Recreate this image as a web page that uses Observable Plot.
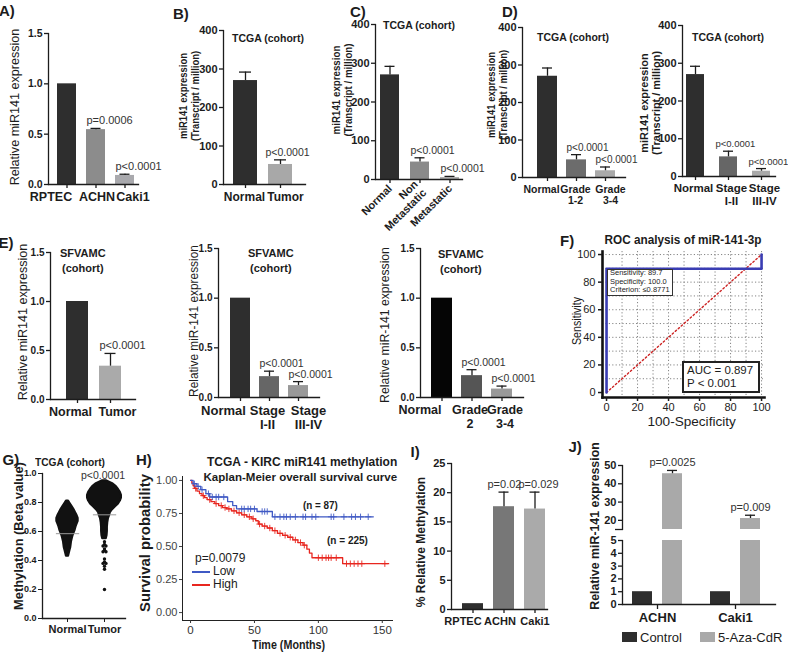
<!DOCTYPE html>
<html><head><meta charset="utf-8">
<script src="https://cdn.jsdelivr.net/npm/d3@7"></script>
<script src="https://cdn.jsdelivr.net/npm/@observablehq/plot@0.6"></script>
<style>
body{margin:0;background:#fff;}
#root{position:relative;width:788px;height:652px;overflow:hidden;background:#fff;font-family:'Liberation Sans',Arial,sans-serif;}
#root svg.boldticks g[aria-label*="tick label"] text{font-weight:bold;fill:#1c1c1c;}
</style></head><body><div id="root"></div>
<script>
// ================= DATA =================
const A_cats = ["RPTEC","ACHN","Caki1"];
const A_vals = [1.0, 0.545, 0.09];
const A_errs = [0, 0.012, 0.012];
const A_pvals = ["", "p=0.0006", "p<0.0001"];

const B_cats = ["Normal","Tumor"];
const B_vals = [270, 52];
const B_errs = [22, 12];
const B_pvals = ["", "p<0.0001"];

const C_cats = ["Normal","Non\nMetastatic","Metastatic"];
const C_vals = [270, 45, 5];
const C_errs = [22, 11, 3];
const C_pvals = ["", "p<0.0001", "p<0.0001"];

const D1_cats = ["Normal","Grade\n1-2","Grade\n3-4"];
const D1_vals = [270, 47, 18];
const D1_errs = [22, 14, 10];
const D1_pvals = ["", "p<0.0001", "p<0.0001"];

const D2_cats = ["Normal","Stage\nI-II","Stage\nIII-IV"];
const D2_vals = [270, 52, 14];
const D2_errs = [22, 15, 7];
const D2_pvals = ["", "p<0.0001", "p<0.0001"];

const E1_cats = ["Normal","Tumor"];
const E1_vals = [1.0, 0.34];
const E1_errs = [0, 0.13];
const E1_pvals = ["", "p<0.0001"];

const E2_cats = ["Normal","Stage\nI-II","Stage\nIII-IV"];
const E2_vals = [1.0, 0.21, 0.12];
const E2_errs = [0, 0.055, 0.04];
const E2_pvals = ["", "p<0.0001", "p<0.0001"];

const E3_cats = ["Normal","Grade\n2","Grade\n3-4"];
const E3_vals = [1.0, 0.22, 0.085];
const E3_errs = [0, 0.06, 0.03];
const E3_pvals = ["", "p<0.0001", "p<0.0001"];

const I_cats = ["RPTEC","ACHN","Caki1"];
const I_vals = [1.0, 17.6, 17.2];
const I_errs = [0, 2.5, 2.9];
const I_pvals = ["", "p=0.02", "p=0.029"];

const J_groups = ["ACHN","Caki1"];
const J_treat = ["Control","5-Aza-CdR"];
const J_ctrl = [1.0, 1.0];
const J_aza = [45.5, 21.0];
const J_azaErr = [1.8, 1.8];
const J_pvals = ["p=0.0025", "p=0.009"];

// ROC (F)
const F_fpr = [0, 0, 100, 100];
const F_tpr = [0, 89.7, 89.7, 100];
const F_diag = [0, 100];
const F_ticks = [0, 20, 40, 60, 80, 100];
const F_grid = [10, 20, 30, 40, 50, 60, 70, 80, 90, 100];

// Methylation beeswarm outline (G): level -> half spread (fraction of group spacing)
const G_cats = ["Normal","Tumor"];
const G_normLevels = [0.81,0.79,0.77,0.75,0.73,0.71,0.69,0.67,0.65,0.63,0.61,0.59,0.57,0.55,0.53,0.51,0.49,0.47,0.45,0.43];
const G_normSpread = [0.03,0.08,0.13,0.18,0.22,0.26,0.29,0.29,0.26,0.23,0.21,0.18,0.15,0.13,0.11,0.10,0.09,0.07,0.05,0.03];
const G_tumLevels = [0.95,0.93,0.91,0.89,0.87,0.85,0.83,0.81,0.79,0.77,0.75,0.73,0.71,0.69,0.66,0.63,0.60,0.57,0.55];
const G_tumSpread = [0.05,0.22,0.32,0.38,0.43,0.46,0.46,0.43,0.38,0.30,0.22,0.16,0.14,0.11,0.09,0.08,0.08,0.07,0.05];
const G_tailVals = [0.53,0.51,0.50,0.50,0.48,0.47,0.46,0.46,0.41,0.39,0.38,0.38,0.36,0.34,0.20];
const G_tailOff  = [0,0,-0.04,0.04,0,0,-0.04,0.04,0,0,-0.04,0.04,0,0,0];
const G_lineVals = [0.585, 0.715];

// Kaplan-Meier (H)
const H_lowT = [0, 2, 5, 8, 12, 15, 29, 33, 36, 52, 64, 143];
const H_lowS = [1, 0.975, 0.955, 0.93, 0.9, 0.875, 0.84, 0.81, 0.785, 0.765, 0.725, 0.725];
const H_lowCens = [3,6,9,14,17,20,22,26,40,42,45,47,50,56,58,60,66,70,73,75,78,82,88,90,95,98,110,112,120,126,129,133,139];
const H_highT = [0,1,2,3,5,7,9,11,13,16,19,22,25,28,32,36,40,44,48,51,53,56,60,64,68,72,76,80,84,88,91,93,95,119,155];
const H_highS = [1,0.98,0.96,0.94,0.92,0.9,0.885,0.87,0.855,0.84,0.825,0.81,0.795,0.785,0.77,0.755,0.74,0.725,0.71,0.695,0.67,0.655,0.64,0.62,0.6,0.585,0.57,0.55,0.53,0.51,0.48,0.45,0.415,0.37,0.37];
const H_highCens = [4,10,15,20,24,27,30,34,38,42,46,49,54,58,62,66,70,74,78,82,86,89,100,103,106,108,110,114,122,125,128,131,134,152];

// ================= HELPERS =================
const W = 788, H = 652;
const FONT = "'Liberation Sans', Arial, Helvetica, sans-serif";
const INK = "#1c1c1c";
const root = document.getElementById("root");

function add(svg, weight){
  Object.assign(svg.style, {position: "absolute", left: "0px", top: "0px", background: "transparent",
    overflow: "visible", maxWidth: "none", fontFamily: FONT, color: INK});
  svg.setAttribute("font-family", FONT);
  if (weight === "bold") {
    svg.classList.add("boldticks");
    svg.querySelectorAll("text").forEach(t => {
      let el = t, normal = false;
      while (el && el !== svg) { if (el.getAttribute && el.getAttribute("font-weight") === "normal") { normal = true; break; } el = el.parentNode; }
      if (!normal) { t.setAttribute("font-weight", "bold"); t.style.fontWeight = "bold"; t.style.fill = INK; }
    });
  }
  root.appendChild(svg);
  return svg;
}
function base(l, r, t, b){
  return {width: W, height: H, marginLeft: l, marginRight: W - r, marginTop: t, marginBottom: H - b};
}
function T(s, x, y, o = {}){
  const d = document.createElement("div");
  d.textContent = s;
  const st = d.style, size = o.size || 12;
  st.position = "absolute"; st.whiteSpace = "pre"; st.fontFamily = o.family || FONT;
  st.fontSize = size + "px"; st.fontWeight = o.weight || "bold"; st.color = o.color || INK;
  st.lineHeight = (o.lh || Math.round(size * 1.15)) + "px"; st.textAlign = o.align || "center";
  st.left = "0px"; st.top = "0px";
  root.appendChild(d);
  const w = d.offsetWidth, h = d.offsetHeight;
  const sx = o.w ? o.w / w : 1;
  let cx = x;
  if (o.anchor === "start") cx = x + w * sx / 2;
  st.left = (cx - w / 2) + "px"; st.top = (y - h / 2) + "px";
  st.transformOrigin = "50% 50%";
  st.transform = `rotate(${o.rot || 0}deg) scaleX(${sx})`;
  return d;
}
function box(x, y, w, h, border){
  const d = document.createElement("div");
  Object.assign(d.style, {position:"absolute", left:x+"px", top:y+"px", width:w+"px", height:h+"px",
    border: border, background:"#fff", boxSizing:"border-box"});
  root.appendChild(d);
}
function hline(x1, x2, y, color, w){
  const d = document.createElement("div");
  Object.assign(d.style, {position:"absolute", left:x1+"px", top:(y - w/2)+"px", width:(x2-x1)+"px", height:w+"px", background:color});
  root.appendChild(d);
}
function swatch(x, y, w, h, color){
  const d = document.createElement("div");
  Object.assign(d.style, {position:"absolute", left:x+"px", top:y+"px", width:w+"px", height:h+"px", background:color});
  root.appendChild(d);
}

function barPanel(cats, vals, errs, pvals, g, s){
  const data = cats.map((c, i) => ({c, v: vals[i], e: errs[i], p: pvals[i], f: s.fills[i]}));
  const withErr = data.filter(d => d.e > 0);
  const n = cats.length, pi = 1 - g.bw / g.step;
  const cap = (g.bw - (s.capW || 9)) / 2;
  const catMarks = s.rot
    ? [Plot.axisX({tickSize: 4, tickPadding: 3, fontSize: s.catFont, label: null, strokeWidth: 1.3, tickRotate: s.rot, lineHeight: 1.1})]
    : [Plot.axisX({tickSize: 4, tickFormat: () => "", label: null, strokeWidth: 1.3}),
       ...data.map((d, i) => Plot.text([d], {x: "c", frameAnchor: "bottom", text: "c", dy: 7, dx: (s.ldx || [])[i] || 0,
          lineAnchor: "top", fontSize: s.catFont, fontWeight: "bold", fontFamily: FONT, lineHeight: 1.1, fill: INK}))];
  add(Plot.plot({
    ...base(g.X0, g.X1, g.yTop, g.yBot),
    x: {domain: cats, range: [g.c0 - g.step / 2, g.c0 + (n - 0.5) * g.step], paddingInner: pi, paddingOuter: pi / 2, axis: null},
    y: {domain: [0, g.yMax], axis: null},
    color: {type: "identity"},
    marks: [
      Plot.barY(data, {x: "c", y: "v", fill: "f"}),
      Plot.ruleX(withErr, {x: "c", y1: "v", y2: d => d.v + d.e, stroke: INK, strokeWidth: 1.3}),
      Plot.tickY(withErr, {x: "c", y: d => d.v + d.e, stroke: INK, strokeWidth: 1.3, insetLeft: cap, insetRight: cap}),
      Plot.text(data.filter(d => d.p), {x: "c", y: d => d.v + d.e, text: "p", textAnchor: "start",
        dx: -g.bw / 2 + (s.pdx || 0), dy: -4, lineAnchor: "bottom", fontSize: s.pSize || 10.5, fontWeight: "normal", fontFamily: FONT, fill: "#333"}),
      Plot.frame({anchor: "left", stroke: INK, strokeWidth: 1.3}),
      Plot.frame({anchor: "bottom", stroke: INK, strokeWidth: 1.3}),
      Plot.axisY({ticks: s.ticks, tickFormat: s.fmt, tickSize: 4, tickPadding: 2, fontSize: s.tickFont, label: null, strokeWidth: 1.3}),
      ...catMarks
    ]
  }), "bold");
}

// ================= PANELS =================
const dark = "#2e2e2e";
// A
barPanel(A_cats, A_vals, A_errs, A_pvals, {X0:48, X1:138, yTop:33, yBot:184, yMax:1.5, c0:66, step:29, bw:19},
  {fills:[dark,"#8c8c8c","#a9a9ad"], ticks:[0,0.5,1,1.5], fmt:".1f", tickFont:10.5, catFont:12.5, capW:10, ldx:[-16,1,8], pSize:11});
T("A)", 7, 10, {size:15});
T("Relative miR141 expression", 15, 107, {size:12.5, weight:"normal", rot:-90, w:157});

// B
barPanel(B_cats, B_vals, B_errs, B_pvals, {X0:223, X1:305, yTop:30, yBot:184, yMax:400, c0:245, step:35, bw:24},
  {fills:[dark,"#a8a8a8"], ticks:[0,100,200,300,400], fmt:"d", tickFont:11, catFont:12, capW:12, pdx:-3, ldx:[-1,5]});
T("B)", 181, 13, {size:15});
T("TCGA (cohort)", 268, 38, {size:10.5, w:72});
T("miR141 expression\n(Transcript / million)", 188, 96, {size:11, rot:-90, w:90, lh:12});

// C
barPanel(C_cats, C_vals, C_errs, C_pvals, {X0:375, X1:462, yTop:24, yBot:179, yMax:400, c0:389, step:30, bw:19},
  {fills:[dark,"#8a8a8a","#acacac"], ticks:[0,100,200,300,400], fmt:"d", tickFont:11, catFont:11, rot:-45, capW:10});
T("C)", 358, 11, {size:15});
T("TCGA (cohort)", 419, 25, {size:10.5, w:72});
T("miR141 expression\n(Transcript / million)", 341, 90, {size:11, rot:-90, w:93, lh:12});

// D left
barPanel(D1_cats, D1_vals, D1_errs, D1_pvals, {X0:522, X1:625, yTop:27, yBot:177, yMax:400, c0:547, step:29, bw:20},
  {fills:[dark,"#6c6c6c","#a9a9a9"], ticks:[0,100,200,300,400], fmt:"d", tickFont:11, catFont:10.5, capW:10, ldx:[-6,-1,5], pSize:10});
T("D)", 510, 11, {size:15});
T("TCGA (cohort)", 573, 37, {size:10.5, w:72});
T("miR141 expression\n(Transcript / million)", 496, 95, {size:11, rot:-90, w:90, lh:12});

// D right
barPanel(D2_cats, D2_vals, D2_errs, D2_pvals, {X0:682, X1:775, yTop:25, yBot:176, yMax:400, c0:695, step:33, bw:18},
  {fills:[dark,"#666666","#a9a9a9"], ticks:[0,100,200,300,400], fmt:"d", tickFont:11, catFont:11.5, capW:10, ldx:[-2,3,3], pSize:9.5, pdx:-4});
T("TCGA (cohort)", 728, 37, {size:10.5, w:72});
T("miR141 expression\n(Transcript / million)", 649, 103, {size:11, rot:-90, w:104, lh:12});

// E1
barPanel(E1_cats, E1_vals, E1_errs, E1_pvals, {X0:50, X1:135, yTop:252, yBot:399, yMax:1.5, c0:77, step:33, bw:22},
  {fills:[dark,"#aaaaaa"], ticks:[0,0.5,1,1.5], fmt:".1f", tickFont:10, catFont:12.5, capW:11, ldx:[-7,7], pSize:11});
T("E)", 6, 242, {size:15});
T("SFVAMC\n(cohort)", 83, 261, {size:11, lh:15});
T("Relative miR141 expression", 23, 322, {size:12.5, weight:"normal", rot:-90, w:157});

// E2
barPanel(E2_cats, E2_vals, E2_errs, E2_pvals, {X0:218, X1:319, yTop:248, yBot:397, yMax:1.5, c0:240, step:29, bw:20},
  {fills:[dark,"#666666","#999999"], ticks:[0,0.5,1,1.5], fmt:".1f", tickFont:10, catFont:13, capW:10, ldx:[-17,-2,10]});
T("SFVAMC\n(cohort)", 271, 261, {size:11, lh:15});
T("Relative miR-141 expression", 194, 321, {size:12.5, weight:"normal", rot:-90, w:152});

// E3
barPanel(E3_cats, E3_vals, E3_errs, E3_pvals, {X0:420, X1:523, yTop:248, yBot:397, yMax:1.5, c0:441, step:30.5, bw:21},
  {fills:["#050505","#555555","#999999"], ticks:[0,0.5,1,1.5], fmt:".1f", tickFont:10, catFont:12.5, capW:10, ldx:[-22,-2,3]});
T("SFVAMC\n(cohort)", 461, 262, {size:11, lh:15});
T("Relative miR-141 expression", 385, 325, {size:12.5, weight:"normal", rot:-90, w:156});

// F ROC
add(Plot.plot({
  ...base(602, 764, 251, 397),
  x: {domain: [-2.6, 101.9], axis: null},
  y: {domain: [-3.6, 102.2], axis: null},
  marks: [
    Plot.gridX(F_grid, {stroke: "#777", strokeOpacity: 1, strokeDasharray: "1.2,2.2", strokeWidth: 0.9}),
    Plot.gridY(F_grid, {stroke: "#777", strokeOpacity: 1, strokeDasharray: "1.2,2.2", strokeWidth: 0.9}),
    Plot.line(F_diag.map(v => ({v})), {x: "v", y: "v", stroke: "#cc2222", strokeDasharray: "1.6,2.4", strokeWidth: 1.4}),
    Plot.line(F_fpr.map((x, i) => ({x, y: F_tpr[i]})), {x: "x", y: "y", stroke: "#3a3db3", strokeWidth: 2.6}),
    Plot.frame({anchor: "left", stroke: "#111", strokeWidth: 2.6}),
    Plot.frame({anchor: "bottom", stroke: "#111", strokeWidth: 2.6}),
    Plot.axisX({ticks: F_ticks, tickSize: 4, tickPadding: 2, fontSize: 11, label: null, strokeWidth: 1.5}),
    Plot.axisY({ticks: F_ticks, tickSize: 4, tickPadding: 3, fontSize: 11, label: null, strokeWidth: 1.5})
  ]
}));
box(607, 269, 66, 27, "1px solid #333");
T("Sensitivity: 89.7\nSpecificity: 100.0\nCriterion: \u22640.8771", 610, 282, {size:7.5, weight:"normal", lh:8.5, align:"left", anchor:"start"});
box(682, 361, 78, 32, "2.5px solid #222");
T("AUC = 0.897\nP < 0.001", 687, 377, {size:11.5, weight:"normal", lh:13, align:"left", anchor:"start"});
T("F)", 567, 240, {size:15});
T("ROC analysis of miR-141-3p", 683, 240, {size:12, w:157});
T("Sensitivity", 577, 321, {size:12, weight:"normal", rot:-90, w:48});
T("100-Specificity", 691, 422, {size:12.5, weight:"normal", w:88});

// G beeswarm
const G_norm = G_normLevels.map((y, i) => ({y, w: G_normSpread[i]}));
const G_tum = G_tumLevels.map((y, i) => ({y, w: G_tumSpread[i]}));
const G_tail = G_tailVals.map((v, i) => ({v, o: G_tailOff[i]}));
const G_lines = G_lineVals.map((v, i) => ({v, g: i + 1}));
add(Plot.plot({
  ...base(42, 125, 473, 618),
  x: {domain: [0.324, 2.568], axis: null},
  y: {domain: [0, 1], axis: null},
  marks: [
    Plot.areaX(G_norm, {y: "y", x1: d => 1 - d.w, x2: d => 1 + d.w, fill: "#111", stroke: "#111", strokeWidth: 2}),
    Plot.areaX(G_tum, {y: "y", x1: d => 2 - d.w, x2: d => 2 + d.w, fill: "#111", stroke: "#111", strokeWidth: 2}),
    Plot.dot(G_tail, {x: d => 2 + d.o, y: "v", r: 1.7, fill: "#111"}),
    Plot.ruleY(G_lines, {y: "v", x1: d => d.g - 0.3, x2: d => d.g + 0.33, stroke: "#999", strokeWidth: 1}),
    Plot.frame({anchor: "left", stroke: INK, strokeWidth: 1.3}),
    Plot.frame({anchor: "bottom", stroke: INK, strokeWidth: 1.3}),
    Plot.axisY({ticks: [0, 0.2, 0.4, 0.6, 0.8, 1], tickFormat: ".1f", tickSize: 4, tickPadding: 2, fontSize: 9, label: null}),
    Plot.axisX({ticks: [1, 2], tickFormat: d => G_cats[d - 1], tickSize: 4, tickPadding: 3, fontSize: 11, label: null})
  ]
}), "bold");
T("G)", 11, 459, {size:15});
T("TCGA (cohort)", 70, 462, {size:10.5, w:70});
T("p<0.0001", 103, 475, {size:10.5, weight:"normal", color:"#333"});
T("Methylation (Beta value)", 19, 536, {size:12.5, rot:-90, w:148});

// H Kaplan-Meier
function stepAt(ts, ss, t){ let s = ss[0]; for (let i = 0; i < ts.length; i++) if (ts[i] <= t) s = ss[i]; return s; }
const H_low = H_lowT.map((t, i) => ({t, s: H_lowS[i]}));
const H_high = H_highT.map((t, i) => ({t, s: H_highS[i]}));
const H_lowC = H_lowCens.map(t => ({t, s: stepAt(H_lowT, H_lowS, t)}));
const H_highC = H_highCens.map(t => ({t, s: stepAt(H_highT, H_highS, t)}));
const BLUE = "#3f59c4", RED = "#e8261f";
add(Plot.plot({
  ...base(182, 392, 476, 620),
  x: {domain: [-6.3, 158], axis: null},
  y: {domain: [-0.06, 1.03], axis: null},
  marks: [
    Plot.frame({anchor: "left", stroke: "#222", strokeWidth: 1}),
    Plot.frame({anchor: "bottom", stroke: "#222", strokeWidth: 1}),
    Plot.axisY({ticks: [0, 0.25, 0.5, 0.75, 1], tickFormat: ".2f", tickSize: 3, tickPadding: 2, fontSize: 11, label: null, color: "#444"}),
    Plot.axisX({ticks: [0, 50, 100, 150], tickSize: 3, tickPadding: 2, fontSize: 11.5, label: null, color: "#333"}),
    Plot.line(H_high, {x: "t", y: "s", curve: "step-after", stroke: RED, strokeWidth: 1.3}),
    Plot.line(H_low, {x: "t", y: "s", curve: "step-after", stroke: BLUE, strokeWidth: 1.3}),
    Plot.dot(H_highC, {x: "t", y: "s", symbol: "plus", r: 2.2, stroke: RED, strokeWidth: 0.9}),
    Plot.dot(H_lowC, {x: "t", y: "s", symbol: "plus", r: 2.2, stroke: BLUE, strokeWidth: 0.9})
  ]
}));
T("H)", 144, 459, {size:15});
T("TCGA - KIRC miR141 methylation", 302, 462, {size:12, w:190});
T("Kaplan-Meier overall survival curve", 300, 477, {size:11, w:194});
T("Survival probability", 145, 543, {size:14, rot:-90, w:138});
T("Time (Months)", 288, 645, {size:12.5, w:73});
T("(n = 87)", 320, 505, {size:11, w:35});
T("(n = 225)", 347, 540, {size:11, w:41});
T("p=0.0079", 195, 558, {size:12, weight:"normal", anchor:"start"});
hline(192, 210, 572, BLUE, 1.5);
T("Low", 213, 571, {size:12, weight:"normal", anchor:"start"});
hline(192, 210, 585, RED, 1.5);
T("High", 213, 584, {size:12, weight:"normal", anchor:"start"});

// I
barPanel(I_cats, I_vals, I_errs, I_pvals, {X0:451, X1:547, yTop:463, yBot:609, yMax:25, c0:472, step:31.5, bw:21},
  {fills:[dark,"#777777","#aaaaaa"], ticks:[0,5,10,15,20,25], fmt:"d", tickFont:11, catFont:11, capW:10, pdx:-6, ldx:[-10,-4,0], pSize:11});
T("I)", 415, 451, {size:15});
T("% Relative Methylation", 420, 542, {size:12.5, rot:-90, w:130});

// J broken axis
const J_rows = J_groups.flatMap((g, i) => [
  {g, t: J_treat[0], v: J_ctrl[i], e: 0, p: ""},
  {g, t: J_treat[1], v: J_aza[i], e: J_azaErr[i], p: J_pvals[i]}
]);
const J_fill = {"Control": dark, "5-Aza-CdR": "#a9a9a9"};
const J_aza_rows = J_rows.filter(d => d.e > 0);
const J_facet = {
  fx: {domain: J_groups, paddingInner: 0.2308, paddingOuter: 0.096, align: 1/3, axis: null},
  x: {domain: J_treat, paddingInner: 1/3, paddingOuter: 1/6, axis: null},
  color: {type: "identity"}
};
add(Plot.plot({
  ...base(622, 775, 540, 604), ...J_facet,
  y: {domain: [0, 5], axis: null},
  marks: [
    Plot.barY(J_rows, {fx: "g", x: "t", y: "v", fill: d => J_fill[d.t], clip: true}),
    Plot.axisFx({anchor: "bottom", tickSize: 5, tickPadding: 3, fontSize: 13, label: null, strokeWidth: 1.3})
  ]
}), "bold");
add(Plot.plot({
  ...base(622, 775, 540, 604),
  y: {domain: [0, 5], axis: null},
  marks: [
    Plot.frame({anchor: "left", stroke: INK, strokeWidth: 1.3}),
    Plot.frame({anchor: "bottom", stroke: INK, strokeWidth: 1.3}),
    Plot.axisY({ticks: [0, 1, 2, 3, 4, 5], tickFormat: "d", tickSize: 4, tickPadding: 2, fontSize: 11, label: null, strokeWidth: 1.3})
  ]
}), "bold");
add(Plot.plot({
  ...base(622, 775, 465, 529), ...J_facet,
  y: {domain: [15, 50], axis: null},
  marks: [
    Plot.barY(J_rows, {fx: "g", x: "t", y: "v", fill: d => J_fill[d.t], clip: true}),
    Plot.ruleX(J_aza_rows, {fx: "g", x: "t", y1: "v", y2: d => d.v + d.e, stroke: INK, strokeWidth: 1.3}),
    Plot.tickY(J_aza_rows, {fx: "g", x: "t", y: d => d.v + d.e, stroke: INK, strokeWidth: 1.3, insetLeft: 5, insetRight: 5}),
    Plot.text(J_aza_rows, {fx: "g", x: "t", y: d => d.v + d.e, text: "p", dy: -4, lineAnchor: "bottom", fontSize: 11, fill: "#333"})
  ]
}));
add(Plot.plot({
  ...base(622, 775, 465, 529),
  y: {domain: [15, 50], axis: null},
  marks: [
    Plot.frame({anchor: "left", stroke: INK, strokeWidth: 1.3}),
    Plot.axisY({ticks: [20, 30, 40, 50], tickFormat: "d", tickSize: 4, tickPadding: 2, fontSize: 11, label: null, strokeWidth: 1.3}),
    Plot.axisY({ticks: [15], tickFormat: () => "", tickSize: 7, label: null, strokeWidth: 1.3})
  ]
}), "bold");
T("J)", 575, 446, {size:15});
T("Relative miR-141 expression", 595, 526, {size:12.5, rot:-90, w:168});
swatch(622, 632, 15, 10, J_fill["Control"]);
T("Control", 640, 637, {size:13, weight:"normal", anchor:"start"});
swatch(700, 632, 15, 10, J_fill["5-Aza-CdR"]);
T("5-Aza-CdR", 718, 637, {size:13, weight:"normal", anchor:"start"});
</script></body></html>
